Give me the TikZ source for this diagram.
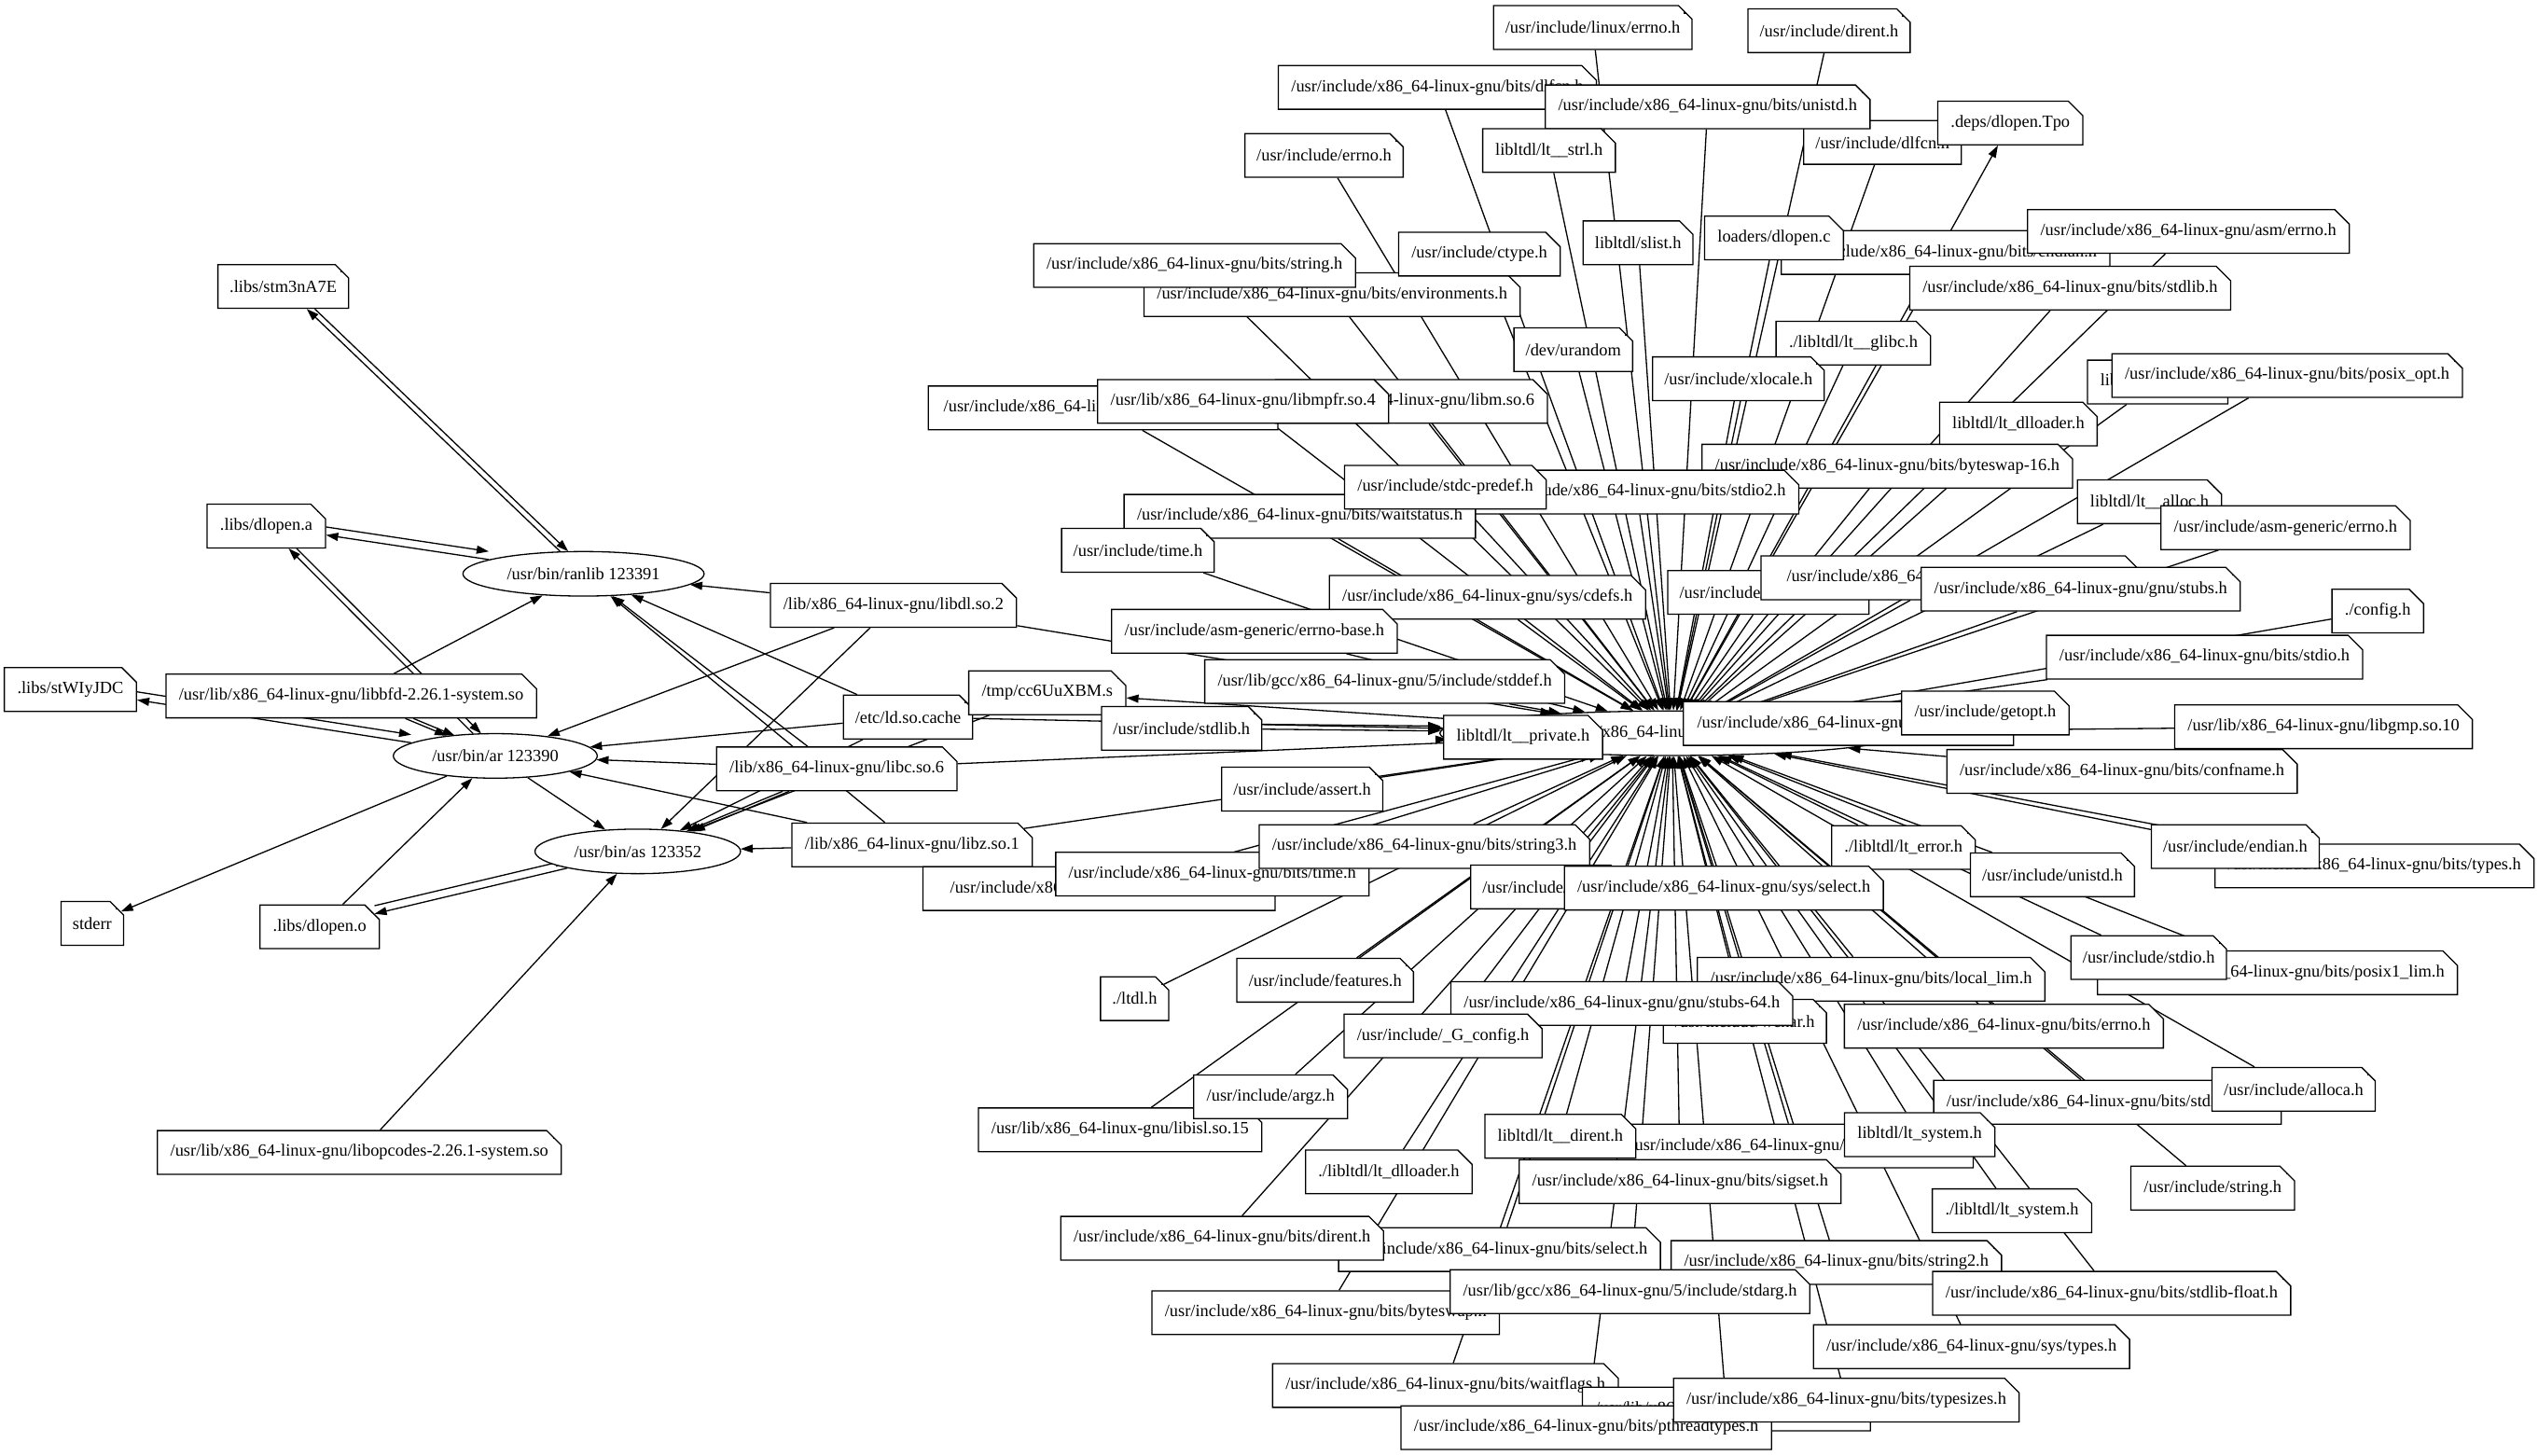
\documentclass[tikz,border=0pt]{standalone}
\usepackage{fontspec}
\setmainfont{Liberation Serif}
\usetikzlibrary{shapes.misc,shapes.geometric,arrows.meta}
\pgfdeclarelayer{background}
\pgfsetlayers{background,main}
\begin{document}
\begin{tikzpicture}[x=1pt,y=-1pt]
    \tikzstyle{filebox} = [chamfered rectangle, chamfered rectangle corners=north east,
        chamfered rectangle xsep=4.5pt, chamfered rectangle ysep=4.5pt,
        draw, line width=0.75pt, fill=white, inner xsep=3.5pt, inner ysep=0pt,
        minimum height=27pt, font=\fontsize{10.6}{12}\selectfont,
        path picture={\draw [line width=0.75pt] ([xshift=-4.5pt]path picture bounding box.north east)
            |- ([yshift=-4.5pt]path picture bounding box.north east);}]
    \tikzstyle{proc} = [ellipse, draw, line width=0.75pt, fill=white, inner sep=0pt,
        minimum height=27.5pt, font=\fontsize{10.6}{12}\selectfont]
    \tikzstyle{link} = [draw, line width=0.75pt, -{Triangle[length=7.5pt,width=5pt]}]

    \useasboundingbox (0,0) rectangle (1568,899);

    % processes and files on the left
    \node [filebox] (stm) at (175,177) {.libs/stm3nA7E};
    \node [filebox] (dla) at (164.5,325) {.libs/dlopen.a};
    \node [proc, minimum width=149pt] (ranlib) at (360.5,354.5) {/usr/bin/ranlib 123391};
    \node [filebox] (stw) at (43.5,426) {.libs/stWIyJDC};
    \node [filebox] (bfd) at (217,430) {/usr/lib/x86\_64-linux-gnu/libbfd-2.26.1-system.so};
    \node [proc, minimum width=126pt] (ar) at (306,467) {/usr/bin/ar 123390};
    \node [proc, minimum width=127pt] (as) at (394,526) {/usr/bin/as 123352};
    \node [filebox] (stderr) at (57,570.5) {stderr};
    \node [filebox] (dlo) at (197.5,572.6) {.libs/dlopen.o};
    \node [filebox] (opc) at (222,712) {/usr/lib/x86\_64-linux-gnu/libopcodes-2.26.1-system.so};
    \node [filebox] (libdl) at (552,374) {/lib/x86\_64-linux-gnu/libdl.so.2};
    \node [filebox] (ldc) at (561,443) {/etc/ld.so.cache};
    \node [filebox] (libc) at (517,475) {/lib/x86\_64-linux-gnu/libc.so.6};
    \node [filebox] (libz) at (563.5,522) {/lib/x86\_64-linux-gnu/libz.so.1};
    %
    \node [proc, minimum width=287pt] (cc1) at (1033,453) {/usr/lib/gcc/x86\_64-linux-gnu/5/cc1 123351};
    %
    \node [filebox] (r1) at (984,17) {/usr/include/linux/errno.h};
    \node [filebox] (r2) at (1130,19) {/usr/include/dirent.h};
    \node [filebox] (r3) at (888,54) {/usr/include/x86\_64-linux-gnu/bits/dlfcn.h};
    \node [filebox] (r4) at (1163,88) {/usr/include/dlfcn.h};
    \node [filebox] (r5) at (1055,66) {/usr/include/x86\_64-linux-gnu/bits/unistd.h};
    \node [filebox] (tpo) at (1242,76) {.deps/dlopen.Tpo};
    \node [filebox] (r6) at (957,93) {libltdl/lt\_\_strl.h};
    \node [filebox] (r7) at (818,96) {/usr/include/errno.h};
    \node [filebox] (r8) at (1012,150) {libltdl/slist.h};
    \node [filebox] (r9) at (1202,156) {/usr/include/x86\_64-linux-gnu/bits/endian.h};
    \node [filebox] (r10) at (1096,147) {loaders/dlopen.c};
    \node [filebox] (r11) at (1352,143) {/usr/include/x86\_64-linux-gnu/asm/errno.h};
    \node [filebox] (r12) at (1279,178) {/usr/include/x86\_64-linux-gnu/bits/stdlib.h};
    \node [filebox] (r13) at (823,182) {/usr/include/x86\_64-linux-gnu/bits/environments.h};
    \node [filebox] (r14) at (914,157) {/usr/include/ctype.h};
    \node [filebox] (r15) at (738,164) {/usr/include/x86\_64-linux-gnu/bits/string.h};
    \node [filebox] (r16) at (972,216) {/dev/urandom};
    \node [filebox] (r17) at (1145,212) {./libltdl/lt\_\_glibc.h};
    \node [filebox] (r18) at (1074,234) {/usr/include/xlocale.h};
    \node [filebox] (r19) at (1333,236) {libltdl/lt\_\_argz.h};
    \node [filebox] (r20) at (1413,232) {/usr/include/x86\_64-linux-gnu/bits/posix\_opt.h};
    \node [filebox] (r21) at (1247,262) {libltdl/lt\_dlloader.h};
    \node [filebox] (r22) at (1166,288) {/usr/include/x86\_64-linux-gnu/bits/byteswap-16.h};
    \node [filebox] (r23) at (1328,310) {libltdl/lt\_\_alloc.h};
    \node [filebox] (r24) at (1412,326) {/usr/include/asm-generic/errno.h};
    \node [filebox, minimum width=123pt] (r25) at (1092.5,366) {/usr/include/linux/limits.h};
    \node [filebox, minimum width=234pt] (r26) at (1205,357) {/usr/include/x86\_64-linux-gnu/bits/sys\_errlist.h};
    \node [filebox] (r27) at (1285.5,364) {/usr/include/x86\_64-linux-gnu/gnu/stubs.h};
    \node [filebox, minimum width=216pt] (r28) at (681.5,252) {/usr/include/x86\_64-linux-gnu/bits/wordsize.h};
    \node [filebox] (r29) at (872,248) {/usr/lib/x86\_64-linux-gnu/libm.so.6};
    \node [filebox] (r30) at (768,248) {/usr/lib/x86\_64-linux-gnu/libmpfr.so.4};
    \node [filebox] (r31) at (1011,304) {/usr/include/x86\_64-linux-gnu/bits/stdio2.h};
    \node [filebox] (r32) at (803,319) {/usr/include/x86\_64-linux-gnu/bits/waitstatus.h};
    \node [filebox] (r33) at (893,301) {/usr/include/stdc-predef.h};
    \node [filebox] (r34) at (703,340) {/usr/include/time.h};
    \node [filebox] (r35) at (919,369) {/usr/include/x86\_64-linux-gnu/sys/cdefs.h};
    \node [filebox] (r36) at (775,390) {/usr/include/asm-generic/errno-base.h};
    \node [filebox] (r37) at (855.5,421) {/usr/lib/gcc/x86\_64-linux-gnu/5/include/stddef.h};
    \node [filebox] (tmps) at (647,428) {/tmp/cc6UuXBM.s};
    \node [filebox] (r38) at (730,450) {/usr/include/stdlib.h};
    \node [filebox] (r39) at (941,455.5) {libltdl/lt\_\_private.h};
    \node [filebox, minimum width=204pt] (r40) at (1142,447) {/usr/include/x86\_64-linux-gnu/bits/setjmp.h};
    \node [filebox] (r41) at (1226.5,440.5) {/usr/include/getopt.h};
    \node [filebox] (r42) at (1362,406) {/usr/include/x86\_64-linux-gnu/bits/stdio.h};
    \node [filebox] (r43) at (1469,377.5) {./config.h};
    \node [filebox] (r44) at (1435.5,449) {/usr/lib/x86\_64-linux-gnu/libgmp.so.10};
    \node [filebox] (r45) at (1311,476.6) {/usr/include/x86\_64-linux-gnu/bits/confname.h};
    \node [filebox] (r46) at (804.5,487.5) {/usr/include/assert.h};
    \node [filebox, minimum width=217.5pt] (r47) at (679,549) {/usr/include/x86\_64-linux-gnu/bits/wchar.h};
    \node [filebox] (r48) at (749,540) {/usr/include/x86\_64-linux-gnu/bits/time.h};
    \node [filebox] (r49) at (880,523) {/usr/include/x86\_64-linux-gnu/bits/string3.h};
    \node [filebox] (r50) at (1176,523.6) {./libltdl/lt\_error.h};
    \node [filebox] (r51) at (956,548) {/usr/include/libio.h};
    \node [filebox] (r52) at (1065,548.7) {/usr/include/x86\_64-linux-gnu/sys/select.h};
    \node [filebox] (r53) at (1268,540.5) {/usr/include/unistd.h};
    \node [filebox] (r54) at (1467,535) {/usr/include/x86\_64-linux-gnu/bits/types.h};
    \node [filebox] (r55) at (1381,523) {/usr/include/endian.h};
    \node [filebox] (r56) at (1407,601) {/usr/include/x86\_64-linux-gnu/bits/posix1\_lim.h};
    \node [filebox] (r57) at (1327.5,591.6) {/usr/include/stdio.h};
    \node [filebox] (r58) at (701,617) {./ltdl.h};
    \node [filebox] (r59) at (818.7,605.6) {/usr/include/features.h};
    \node [filebox] (r60) at (1156,605) {/usr/include/x86\_64-linux-gnu/bits/local\_lim.h};
    \node [filebox] (r61) at (1078,631) {/usr/include/wchar.h};
    \node [filebox] (r62) at (1002,620) {/usr/include/x86\_64-linux-gnu/gnu/stubs-64.h};
    \node [filebox] (r63) at (891.5,640) {/usr/include/\_G\_config.h};
    \node [filebox] (r64) at (1238,634) {/usr/include/x86\_64-linux-gnu/bits/errno.h};
    \node [filebox] (r65) at (1302,681) {/usr/include/x86\_64-linux-gnu/bits/stdio\_lim.h};
    \node [filebox] (r66) at (1417,673) {/usr/include/alloca.h};
    \node [filebox] (r67) at (692,698) {/usr/lib/x86\_64-linux-gnu/libisl.so.15};
    \node [filebox] (r68) at (785,677.6) {/usr/include/argz.h};
    \node [filebox] (r69) at (858,724) {./libltdl/lt\_dlloader.h};
    \node [filebox, minimum width=212pt] (r70) at (1109,708) {/usr/include/x86\_64-linux-gnu/bits/xopen\_lim.h};
    \node [filebox] (r71) at (964,702) {libltdl/lt\_\_dirent.h};
    \node [filebox] (r72) at (1038,730) {/usr/include/x86\_64-linux-gnu/bits/sigset.h};
    \node [filebox] (r73) at (1186,701) {libltdl/lt\_system.h};
    \node [filebox] (r74) at (1367,734) {/usr/include/string.h};
    \node [filebox] (r75) at (1243,748) {./libltdl/lt\_system.h};
    \node [filebox] (r76) at (926.4,772) {/usr/include/x86\_64-linux-gnu/bits/select.h};
    \node [filebox] (r77) at (755,765) {/usr/include/x86\_64-linux-gnu/bits/dirent.h};
    \node [filebox] (r78) at (819,811) {/usr/include/x86\_64-linux-gnu/bits/byteswap.h};
    \node [filebox] (r79) at (1134.5,780) {/usr/include/x86\_64-linux-gnu/bits/string2.h};
    \node [filebox] (r80) at (1304.6,799) {/usr/include/x86\_64-linux-gnu/bits/stdlib-float.h};
    \node [filebox] (r81) at (1007,798) {/usr/lib/gcc/x86\_64-linux-gnu/5/include/stdarg.h};
    \node [filebox] (r82) at (1218,832) {/usr/include/x86\_64-linux-gnu/sys/types.h};
    \node [filebox] (r83) at (893,856) {/usr/include/x86\_64-linux-gnu/bits/waitflags.h};
    \node [filebox, minimum width=176pt] (r84) at (1066.6,870.5) {/usr/lib/x86\_64-linux-gnu/libmpc.so.3};
    \node [filebox] (r85) at (980,882) {/usr/include/x86\_64-linux-gnu/bits/pthreadtypes.h};
    \node [filebox] (r86) at (1140.7,865) {/usr/include/x86\_64-linux-gnu/bits/typesizes.h};

    \begin{pgfonlayer}{background}
    \path [link] (ranlib) -- (stm);
    \path [link, transform canvas={xshift=5pt}] (stm) -- (ranlib);
    \path [link] (ranlib) -- (dla);
    \path [link, transform canvas={yshift=5pt}] (dla) -- (ranlib);
    \path [link] (ar) -- (dla);
    \path [link, transform canvas={xshift=5pt}] (dla) -- (ar);
    \path [link] (bfd) -- (ranlib);
    \path [link] (bfd) -- (ar);
    \path [link, transform canvas={xshift=5pt}] (bfd) -- (ar);
    \path [link] (ar) -- (stw);
    \path [link, transform canvas={yshift=5pt}] (stw) -- (ar);
    \path [link] (ar) -- (stderr);
    \path [link] (ar) -- (as);
    \path [link] (dlo) -- (ar);
    \path [link] (as) -- (dlo);
    \path [link, transform canvas={yshift=5pt}] (dlo) -- (as);
    \path [link] (opc) -- (as);
    %
    \foreach \src in {libdl,ldc,libc,libz} {
        \path [link] (\src) -- (ranlib);
        \path [link] (\src) -- (ar);
        \path [link] (\src) -- (as);
        \path [link] (\src) -- (cc1);
    }
    \path [link, transform canvas={xshift=4pt}] (libc) -- (as);
    %
    \path [link] (cc1) -- (tmps);
    \path [link] (tmps) -- (as);
    \path [link] (cc1) -- (tpo);
    \foreach \i in {1,...,86}
        \path [link] (r\i) -- (cc1);
    \path [link, transform canvas={yshift=3pt}] (r38) -- (cc1);
    \end{pgfonlayer}

\end{tikzpicture}
\end{document}
